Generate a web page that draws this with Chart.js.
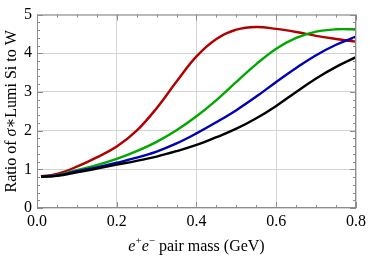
<!DOCTYPE html>
<html>
<head>
<meta charset="utf-8">
<script src="https://cdn.jsdelivr.net/npm/chart.js@4.4.0/dist/chart.umd.min.js"></script>
<style>
  html, body { margin: 0; padding: 0; background: #fff; }
  #wrap { width: 370px; height: 258px; }
</style>
</head>
<body>
<div id="wrap"><canvas id="ratioChart"></canvas></div>
<script>
// --- Data ---
const massGeV = [0.01, 0.05, 0.10, 0.15, 0.20, 0.25, 0.30, 0.35, 0.40, 0.45, 0.50, 0.55, 0.60, 0.65, 0.70, 0.75, 0.80];
const ratioBlack = [0.81, 0.83, 0.92, 1.02, 1.12, 1.22, 1.33, 1.47, 1.63, 1.83, 2.05, 2.32, 2.64, 3.00, 3.35, 3.65, 3.90];
const ratioBlue  = [0.81, 0.84, 0.95, 1.05, 1.17, 1.30, 1.46, 1.67, 1.93, 2.22, 2.53, 2.88, 3.26, 3.62, 3.95, 4.22, 4.43];
const ratioGreen = [0.81, 0.85, 0.98, 1.11, 1.27, 1.47, 1.71, 2.01, 2.37, 2.79, 3.26, 3.72, 4.12, 4.40, 4.56, 4.62, 4.62];
const ratioRed   = [0.82, 0.88, 1.07, 1.31, 1.59, 2.00, 2.58, 3.27, 3.92, 4.37, 4.61, 4.68, 4.63, 4.55, 4.45, 4.37, 4.30];
const xTicks = [0, 0.2, 0.4, 0.6, 0.8];
const yTicks = [0, 1, 2, 3, 4, 5];

const SERIF = '"Liberation Serif", "DejaVu Serif", serif';
const toPoints = ys => ys.map((y, i) => ({ x: massGeV[i], y: y }));

const curve = (label, ys, color) => ({
    label: label,
    data: toPoints(ys),
    borderColor: color,
    borderWidth: 2.4,
    pointRadius: 0,
    showLine: true,
    fill: false,
    tension: 0.4
});

// Frame, inward ticks (major + minor) and the mixed-style axis titles
const framePlugin = {
    id: 'frame',
    afterDatasetsDraw(chart) {
        const { ctx, chartArea: a, scales: { x, y } } = chart;
        ctx.save();
        ctx.strokeStyle = '#8c8c8c';
        ctx.lineWidth = 1;
        ctx.strokeRect(a.left + 0.5, a.top + 0.5, a.right - a.left - 1, a.bottom - a.top - 1);
        ctx.beginPath();
        for (let v = 0; v <= 0.8001; v += 0.05) {
            const px = Math.round(x.getPixelForValue(v)) + 0.5;
            const major = Math.abs(v / 0.2 - Math.round(v / 0.2)) < 1e-6;
            const len = major ? 6 : 3;
            ctx.moveTo(px, a.bottom); ctx.lineTo(px, a.bottom - len);
            ctx.moveTo(px, a.top); ctx.lineTo(px, a.top + len);
        }
        for (let v = 0; v <= 5.0001; v += 0.2) {
            const py = Math.round(y.getPixelForValue(v)) + 0.5;
            const major = Math.abs(v - Math.round(v)) < 1e-6;
            const len = major ? 6 : 3;
            ctx.moveTo(a.left, py); ctx.lineTo(a.left + len, py);
            ctx.moveTo(a.right, py); ctx.lineTo(a.right - len, py);
        }
        ctx.stroke();
        ctx.restore();
    },
    afterDraw(chart) {
        const { ctx, chartArea: a } = chart;
        const drawRuns = (runs, cx, cy) => {
            let w = 0;
            runs.forEach(r => { ctx.font = r.font; w += ctx.measureText(r.t).width; });
            let pos = cx - w / 2;
            runs.forEach(r => {
                ctx.font = r.font;
                ctx.fillText(r.t, pos, cy + (r.dy || 0));
                pos += ctx.measureText(r.t).width;
            });
        };
        ctx.save();
        ctx.fillStyle = '#000';
        ctx.textBaseline = 'alphabetic';
        ctx.textAlign = 'left';
        const n = '16px ' + SERIF, it = 'italic 16px ' + SERIF, sup = '11px ' + SERIF;
        drawRuns([
            { t: 'e', font: it }, { t: '+', font: sup, dy: -7 },
            { t: 'e', font: it }, { t: '\u2212', font: sup, dy: -7 },
            { t: ' pair mass (GeV)', font: n }
        ], (a.left + a.right) / 2, 251);
        ctx.translate(16, (a.top + a.bottom) / 2);
        ctx.rotate(-Math.PI / 2);
        drawRuns([
            { t: 'Ratio of ', font: n }, { t: '\u03C3', font: it },
            { t: '\u2217Lumi Si to W', font: n }
        ], 0, 0);
        ctx.restore();
    }
};

new Chart(document.getElementById('ratioChart').getContext('2d'), {
    type: 'scatter',
    data: {
        datasets: [
            curve('Black', ratioBlack, '#000000'),
            curve('Blue', ratioBlue, '#0000b4'),
            curve('Green', ratioGreen, '#00a800'),
            curve('Red', ratioRed, '#b00000')
        ]
    },
    options: {
        responsive: true,
        maintainAspectRatio: false,
        animation: false,
        layout: { padding: { top: 8, right: 11, left: 0, bottom: 0 } },
        plugins: {
            legend: { display: false },
            tooltip: { enabled: false }
        },
        scales: {
            x: {
                type: 'linear',
                min: 0, max: 0.8,
                afterBuildTicks: s => { s.ticks = xTicks.map(v => ({ value: v })); },
                afterFit: s => { s.height = 50; },
                grid: { color: '#d4d4d4', drawTicks: false },
                border: { display: false },
                ticks: {
                    padding: 4,
                    color: '#000',
                    font: { family: SERIF, size: 16 },
                    maxRotation: 0,
                    callback: v => v.toFixed(1)
                }
            },
            y: {
                min: 0, max: 5,
                afterBuildTicks: s => { s.ticks = yTicks.map(v => ({ value: v })); },
                afterFit: s => { s.width = 37; },
                grid: { color: '#d4d4d4', drawTicks: false },
                border: { display: false },
                ticks: {
                    padding: 5,
                    color: '#000',
                    font: { family: SERIF, size: 16 },
                    callback: v => String(v)
                }
            }
        }
    },
    plugins: [framePlugin]
});
</script>
</body>
</html>
